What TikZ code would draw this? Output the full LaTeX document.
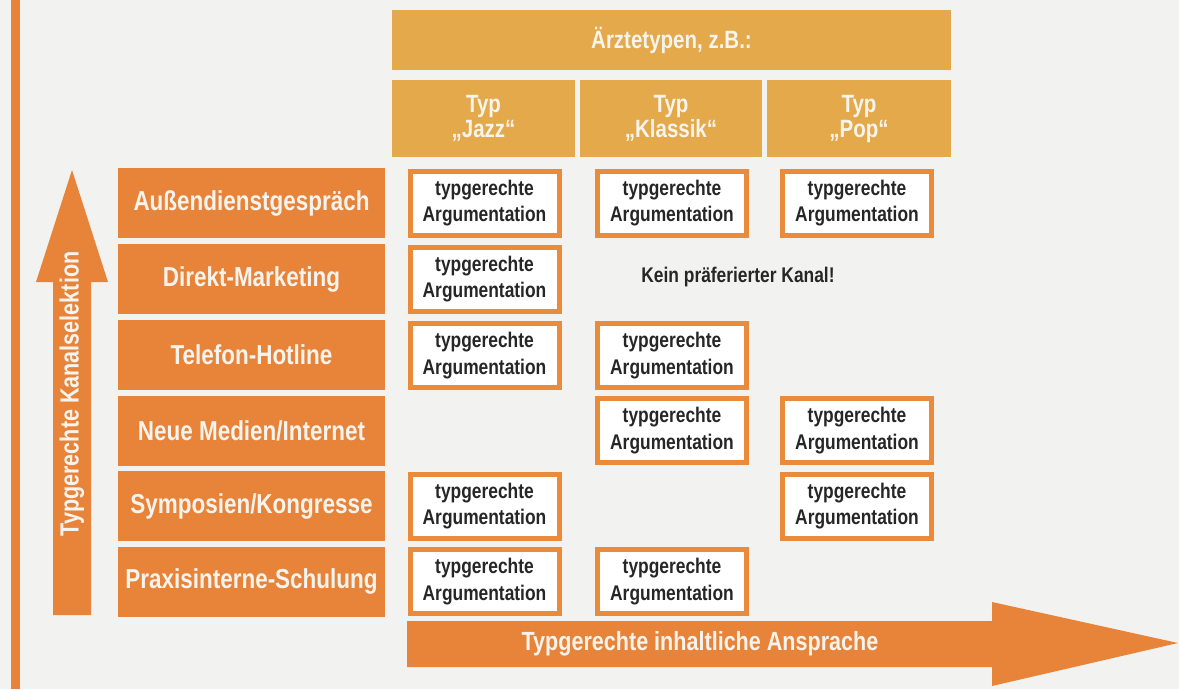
\documentclass[tikz,border=0pt]{standalone}
\usepackage{fontspec}
\setmainfont{Liberation Sans}[FakeStretch=0.82]
\definecolor{bgc}{HTML}{F2F3F1}
\definecolor{oran}{HTML}{E8833A}
\definecolor{gold}{HTML}{E3A94B}
\definecolor{bord}{HTML}{E98B3A}
\definecolor{dark}{HTML}{262626}
\definecolor{whitetxt}{HTML}{F7F4EE}
\tikzset{
  headbox/.style={fill=gold, draw=none, minimum width=559pt, minimum height=60pt, inner sep=0pt,
    text=whitetxt, font=\fontsize{25}{28}\selectfont\bfseries},
  typebox/.style={fill=gold, draw=none, minimum height=77pt, inner sep=0pt, align=center,
    text=whitetxt, font=\fontsize{25}{25}\selectfont\bfseries},
  rowbox/.style={fill=oran, draw=none, minimum width=267pt, minimum height=70pt, inner sep=0pt,
    text=whitetxt, font=\fontsize{27.4}{30}\selectfont\bfseries},
  argbox/.style={fill=white, draw=bord, line width=5pt, minimum width=149pt, minimum height=64pt,
    inner sep=0pt, align=center, text=dark, font=\fontsize{21.2}{26.5}\selectfont\bfseries},
  arrowlabel/.style={text=whitetxt, font=\fontsize{26.3}{30}\selectfont\bfseries, inner sep=0pt},
  arrowshape/.style={fill=oran, draw=none}
}
\begin{document}
\begin{tikzpicture}[x=1pt,y=-1pt]
\useasboundingbox (0,0) rectangle (1179,689);
\fill[bgc] (0,0) rectangle (1179,689);
% left vertical line
\fill[oran] (11,0) rectangle (20,689);
% header
\node[headbox] (head) at (671.5,40) {Ärztetypen, z.B.:};
\node[typebox, minimum width=183pt] (tJ) at (483.5,118.5) {Typ\\„Jazz“};
\node[typebox, minimum width=182pt] (tK) at (671,118.5) {Typ\\„Klassik“};
\node[typebox, minimum width=184pt] (tP) at (859,118.5) {Typ\\„Pop“};
% rows
\node[rowbox] (r1) at (251.5,203) {Außendienstgespräch};
\node[rowbox] (r2) at (251.5,279) {Direkt-Marketing};
\node[rowbox] (r3) at (251.5,355) {Telefon-Hotline};
\node[rowbox] (r4) at (251.5,430.5) {Neue Medien/Internet};
\node[rowbox] (r5) at (251.5,506) {Symposien/Kongresse};
\node[rowbox] (r6) at (251.5,581.5) {Praxisinterne-Schulung};
% argumentation boxes
\node[argbox] (a1J) at (484.5,203) {typgerechte\\Argumentation};
\node[argbox] (a1K) at (672,203) {typgerechte\\Argumentation};
\node[argbox] (a1P) at (857,203) {typgerechte\\Argumentation};
\node[argbox] (a2J) at (484.5,279) {typgerechte\\Argumentation};
\node[text=dark, font=\fontsize{21.2}{24}\selectfont\bfseries, inner sep=0pt, anchor=base] (kein) at (738,282) {Kein präferierter Kanal!};
\node[argbox] (a3J) at (484.5,355.5) {typgerechte\\Argumentation};
\node[argbox] (a3K) at (672,355.5) {typgerechte\\Argumentation};
\node[argbox] (a4K) at (672,430.5) {typgerechte\\Argumentation};
\node[argbox] (a4P) at (857,430.5) {typgerechte\\Argumentation};
\node[argbox] (a5J) at (484.5,506) {typgerechte\\Argumentation};
\node[argbox] (a5P) at (857,506) {typgerechte\\Argumentation};
\node[argbox] (a6J) at (484.5,581.5) {typgerechte\\Argumentation};
\node[argbox] (a6K) at (672,581.5) {typgerechte\\Argumentation};
% vertical arrow
\fill[arrowshape] (53,615) -- (91,615) -- (91,282) -- (108,282) -- (72,170) -- (36,282) -- (53,282) -- cycle;
\node[arrowlabel, rotate=90] (vlab) at (72,394) {Typgerechte Kanalselektion};
% horizontal arrow
\fill[arrowshape] (407,621) -- (992,621) -- (992,602) -- (1178,643) -- (992,686) -- (992,667) -- (407,667) -- cycle;
\node[arrowlabel] (hlab) at (700,644) {Typgerechte inhaltliche Ansprache};
\end{tikzpicture}
\end{document}
